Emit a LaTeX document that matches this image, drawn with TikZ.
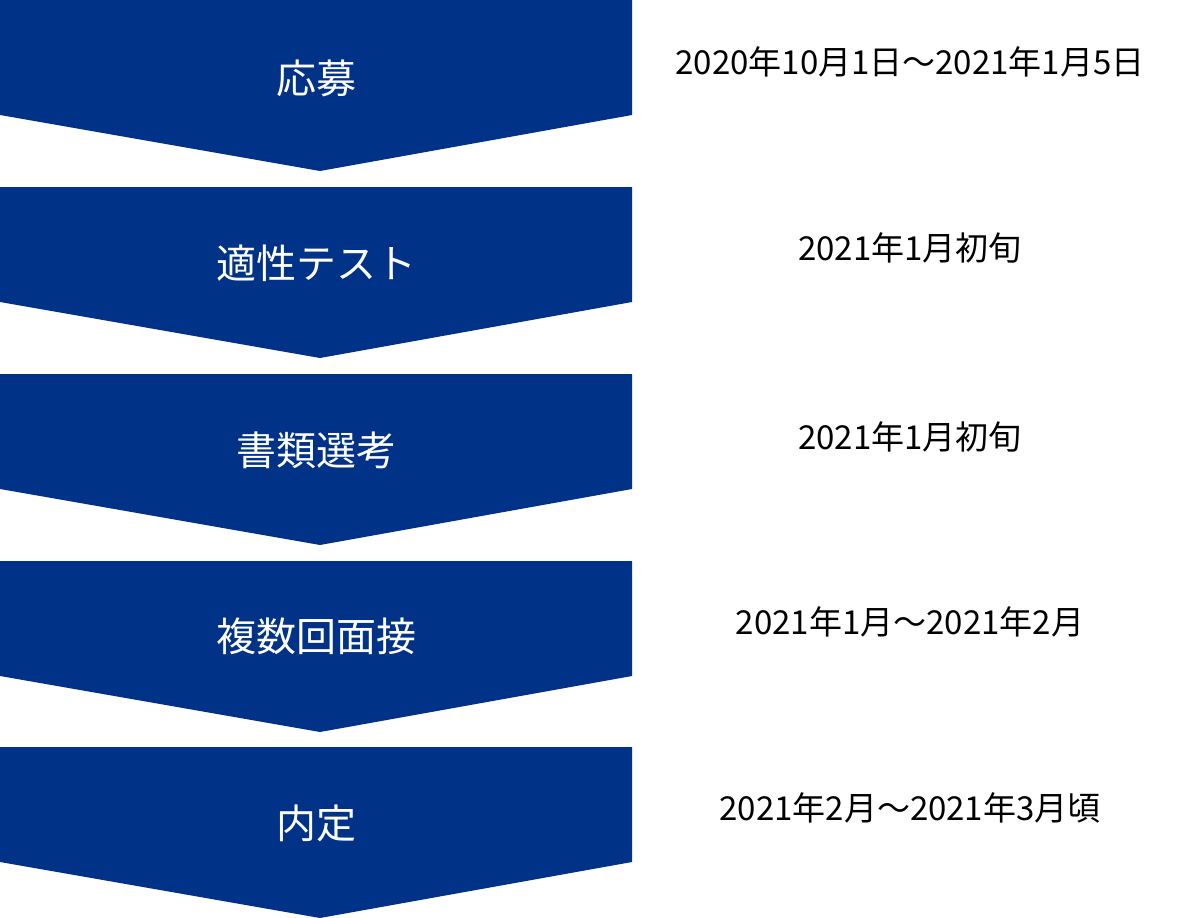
\documentclass[tikz,border=0pt]{standalone}
\usepackage{fontspec}
\setmainfont{Noto Sans CJK JP}
\definecolor{chev}{HTML}{003288}
\begin{document}
\begin{tikzpicture}[x=1pt,y=-1pt,
  stage/.style={text=white,font=\fontsize{40}{44}\selectfont},
  datelbl/.style={text=black,font=\fontsize{33}{38}\selectfont}]
\useasboundingbox (0,0) rectangle (1200,918);
\foreach \t [count=\i] in {0,187,374,561,747}{
  \fill[chev] (0,\t) -- (632,\t) -- (632,\t+115) -- (320,\t+171) -- (0,\t+115) -- cycle;
}
\node[stage] (s1) at (316,78) {応募};
\node[stage] (s2) at (316,263) {適性テスト};
\node[stage] (s3) at (316,450) {書類選考};
\node[stage] (s4) at (316,636) {複数回面接};
\node[stage] (s5) at (316,823) {内定};
\node[datelbl] (d1) at (910,62) {2020年10月1日～2021年1月5日};
\node[datelbl] (d2) at (910,248) {2021年1月初旬};
\node[datelbl] (d3) at (910,437) {2021年1月初旬};
\node[datelbl] (d4) at (910,622) {2021年1月～2021年2月};
\node[datelbl] (d5) at (910,808) {2021年2月～2021年3月頃};
\end{tikzpicture}
\end{document}
